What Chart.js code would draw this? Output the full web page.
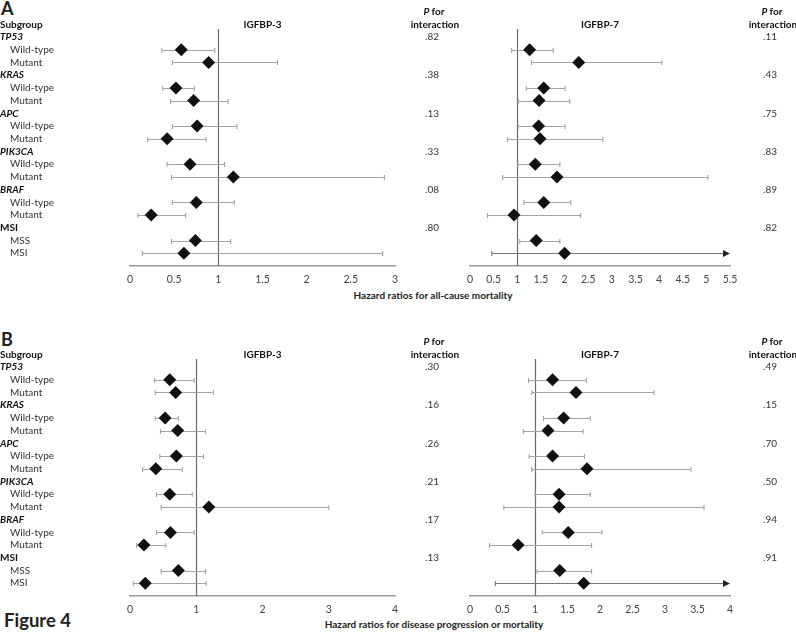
<!DOCTYPE html>
<html>
<head>
<meta charset="utf-8">
<script src="https://cdn.jsdelivr.net/npm/chart.js@4.4.1/dist/chart.umd.min.js"></script>
<style>
  body { margin: 0; background: #fff; width: 796px; height: 634px; position: relative; overflow: hidden; font-family: Lato, sans-serif; color: #222; }
  canvas { position: absolute; }
  .t { position: absolute; white-space: nowrap; font-weight: bold; }
</style>
</head>
<body>
<div class="t" style="left:1px;top:-3px;font-size:18px">A</div>
<div class="t" style="left:1px;top:328px;font-size:18px">B</div>
<div class="t" style="left:4px;top:609px;font-size:18.5px">Figure 4</div>
<div class="t" style="left:433px;top:289px;font-size:10px;transform:translateX(-50%)">Hazard ratios for all-cause mortality</div>
<div class="t" style="left:434px;top:618px;font-size:10px;transform:translateX(-50%)">Hazard ratios for disease progression or mortality</div>
<canvas id="a3"></canvas>
<canvas id="a7"></canvas>
<canvas id="b3"></canvas>
<canvas id="b7"></canvas>
<script>
// subgroups
const genes = ['TP53', 'KRAS', 'APC', 'PIK3CA', 'BRAF', 'MSI']
const levels = [
  ['Wild-type', 'Mutant'], ['Wild-type', 'Mutant'], ['Wild-type', 'Mutant'],
  ['Wild-type', 'Mutant'], ['Wild-type', 'Mutant'], ['MSS', 'MSI']
]
const italicGenes = ['TP53', 'KRAS', 'APC', 'PIK3CA', 'BRAF']

// A: all-cause mortality, IGFBP-3
const hrA3 = [0.58, 0.89, 0.52, 0.72, 0.76, 0.42, 0.68, 1.17, 0.75, 0.24, 0.74, 0.61]
const loA3 = [0.36, 0.48, 0.37, 0.46, 0.48, 0.20, 0.42, 0.47, 0.48, 0.09, 0.47, 0.14]
const hiA3 = [0.96, 1.67, 0.73, 1.11, 1.21, 0.86, 1.07, 2.88, 1.18, 0.63, 1.14, 2.86]
const pA3 = ['.82', '.38', '.13', '.33', '.08', '.80']
// A: all-cause mortality, IGFBP-7
const hrA7 = [1.26, 2.30, 1.56, 1.46, 1.45, 1.48, 1.38, 1.84, 1.56, 0.93, 1.40, 2.00]
const loA7 = [0.88, 1.30, 1.19, 1.02, 1.02, 0.79, 1.01, 0.69, 1.14, 0.37, 1.05, 0.46]
const hiA7 = [1.76, 4.06, 2.01, 2.11, 2.01, 2.81, 1.90, 5.03, 2.13, 2.34, 1.90, 6.20]
const pA7 = ['.11', '.43', '.75', '.83', '.89', '.82']
// B: disease progression or mortality, IGFBP-3
const hrB3 = [0.60, 0.69, 0.53, 0.72, 0.70, 0.39, 0.60, 1.19, 0.61, 0.21, 0.73, 0.23]
const loB3 = [0.37, 0.38, 0.38, 0.46, 0.45, 0.19, 0.40, 0.47, 0.40, 0.10, 0.47, 0.05]
const hiB3 = [0.97, 1.26, 0.73, 1.14, 1.11, 0.79, 0.94, 3.00, 0.97, 0.54, 1.14, 1.15]
const pB3 = ['.30', '.16', '.26', '.21', '.17', '.13']
// B: disease progression or mortality, IGFBP-7
const hrB7 = [1.27, 1.63, 1.44, 1.20, 1.27, 1.80, 1.37, 1.37, 1.51, 0.74, 1.38, 1.75]
const loB7 = [0.90, 0.95, 1.13, 0.82, 0.91, 0.95, 1.00, 0.52, 1.11, 0.30, 1.03, 0.39]
const hiB7 = [1.79, 2.83, 1.85, 1.74, 1.76, 3.40, 1.85, 3.60, 2.03, 1.87, 1.87, 4.60]
const pB7 = ['.49', '.15', '.70', '.50', '.94', '.91']

const FONT = 'Lato, sans-serif'
const FS = 10
const rowOf = (i) => 3 * Math.floor(i / 2) + 1 + (i % 2)

const forestPlugin = {
  id: 'forest',
  beforeDatasetsDraw(chart, args, opts) {
    const { ctx, chartArea } = chart
    const x = chart.scales.x
    const y = chart.scales.y
    ctx.save()
    // reference line at HR = 1
    const rx = Math.round(x.getPixelForValue(1)) + 0.5
    ctx.strokeStyle = '#6a6a6a'
    ctx.lineWidth = 1.2
    ctx.beginPath()
    ctx.moveTo(rx, chartArea.top)
    ctx.lineTo(rx, chartArea.bottom)
    ctx.stroke()
    // confidence intervals
    ctx.lineWidth = 1.1
    opts.lo.forEach((lo, i) => {
      const hi = opts.hi[i]
      const py = Math.round(y.getPixelForValue(rowOf(i))) + 0.5
      const x0 = x.getPixelForValue(lo)
      const over = hi > x.max
      const x1 = x.getPixelForValue(over ? x.max : hi)
      ctx.strokeStyle = over ? '#777' : '#a3a3a3'
      ctx.beginPath()
      ctx.moveTo(x0, py)
      ctx.lineTo(over ? x1 - 6 : x1, py)
      ctx.moveTo(x0, py - 2.5)
      ctx.lineTo(x0, py + 2.5)
      if (!over) {
        ctx.moveTo(x1, py - 2.5)
        ctx.lineTo(x1, py + 2.5)
      }
      ctx.stroke()
      if (over) {
        ctx.fillStyle = '#222'
        ctx.beginPath()
        ctx.moveTo(x1, py)
        ctx.lineTo(x1 - 7, py - 3.5)
        ctx.lineTo(x1 - 7, py + 3.5)
        ctx.closePath()
        ctx.fill()
      }
    })
    ctx.restore()
  },
  afterDraw(chart, args, opts) {
    const { ctx, chartArea } = chart
    const y = chart.scales.y
    ctx.save()
    ctx.textBaseline = 'middle'
    ctx.fillStyle = '#111'
    // panel title
    ctx.textAlign = 'center'
    ctx.font = `bold ${FS}px ${FONT}`
    ctx.fillText(opts.title, (chartArea.left + chartArea.right) / 2, y.getPixelForValue(-1))
    // P for interaction column
    ctx.font = `bold italic ${FS}px ${FONT}`
    const pw = ctx.measureText('P ').width
    ctx.font = `bold ${FS}px ${FONT}`
    const fw = ctx.measureText('for').width
    const px0 = opts.pX + 2 - (pw + fw) / 2
    ctx.textAlign = 'left'
    ctx.font = `bold italic ${FS}px ${FONT}`
    ctx.fillText('P', px0, y.getPixelForValue(-2))
    ctx.font = `bold ${FS}px ${FONT}`
    ctx.fillText('for', px0 + pw, y.getPixelForValue(-2))
    ctx.textAlign = 'center'
    ctx.fillText('interaction', opts.pX + 3, y.getPixelForValue(-1))
    ctx.font = `${FS}px ${FONT}`
    ctx.fillStyle = '#333'
    opts.p.forEach((p, g) => ctx.fillText(p, opts.pX, y.getPixelForValue(3 * g)))
    // subgroup labels
    if (opts.labels) {
      ctx.textAlign = 'left'
      ctx.fillStyle = '#111'
      ctx.font = `bold ${FS}px ${FONT}`
      ctx.fillText('Subgroup', 0, y.getPixelForValue(-1))
      genes.forEach((g, gi) => {
        ctx.fillStyle = '#111'
        ctx.font = italicGenes.includes(g) ? `bold italic ${FS}px ${FONT}` : `bold ${FS}px ${FONT}`
        ctx.fillText(g, 0, y.getPixelForValue(3 * gi))
        ctx.fillStyle = '#333'
        ctx.font = `${FS}px ${FONT}`
        levels[gi].forEach((l, k) => ctx.fillText(l, 10, y.getPixelForValue(3 * gi + 1 + k)))
      })
    }
    ctx.restore()
  }
}

function makeForest(id, left, top, width, padL, padR, cfg) {
  const canvas = document.getElementById(id)
  canvas.width = width
  canvas.height = 290
  canvas.style.left = left + 'px'
  canvas.style.top = top + 'px'
  return new Chart(canvas, {
    type: 'scatter',
    data: {
      datasets: [{
        data: cfg.hr.map((v, i) => ({ x: v, y: rowOf(i) })),
        pointStyle: 'rectRot',
        pointRadius: 6.5,
        backgroundColor: '#111',
        borderColor: '#111',
        borderWidth: 0
      }]
    },
    options: {
      responsive: false,
      animation: false,
      devicePixelRatio: 1,
      layout: { padding: { left: padL, right: padR, top: 29, bottom: 0 } },
      plugins: {
        legend: { display: false },
        tooltip: { enabled: false },
        forest: { lo: cfg.lo, hi: cfg.hi, p: cfg.p, pX: cfg.pX, title: cfg.title, labels: cfg.labels }
      },
      scales: {
        x: {
          type: 'linear',
          min: 0,
          max: cfg.max,
          afterFit: (s) => { s.height = 24 },
          grid: { display: false, drawTicks: false },
          border: { display: true, color: '#999', width: 1.4 },
          ticks: {
            stepSize: cfg.step,
            padding: 7,
            color: '#444',
            font: { family: FONT, size: 10.5 },
            callback: (v) => String(Math.round(v * 10) / 10)
          }
        },
        y: { type: 'linear', display: false, reverse: true, min: -0.63, max: 18 }
      }
    },
    plugins: [forestPlugin]
  })
}

makeForest('a3', 0, 0, 460, 130, 65, { hr: hrA3, lo: loA3, hi: hiA3, p: pA3, pX: 432, title: 'IGFBP-3', labels: true, max: 3, step: 0.5 })
makeForest('a7', 460, 0, 336, 9, 66, { hr: hrA7, lo: loA7, hi: hiA7, p: pA7, pX: 310, title: 'IGFBP-7', labels: false, max: 5.5, step: 0.5 })
makeForest('b3', 0, 330, 460, 130, 65, { hr: hrB3, lo: loB3, hi: hiB3, p: pB3, pX: 432, title: 'IGFBP-3', labels: true, max: 4, step: 1 })
makeForest('b7', 460, 330, 336, 9, 66, { hr: hrB7, lo: loB7, hi: hiB7, p: pB7, pX: 310, title: 'IGFBP-7', labels: false, max: 4, step: 0.5 })
</script>
</body>
</html>
